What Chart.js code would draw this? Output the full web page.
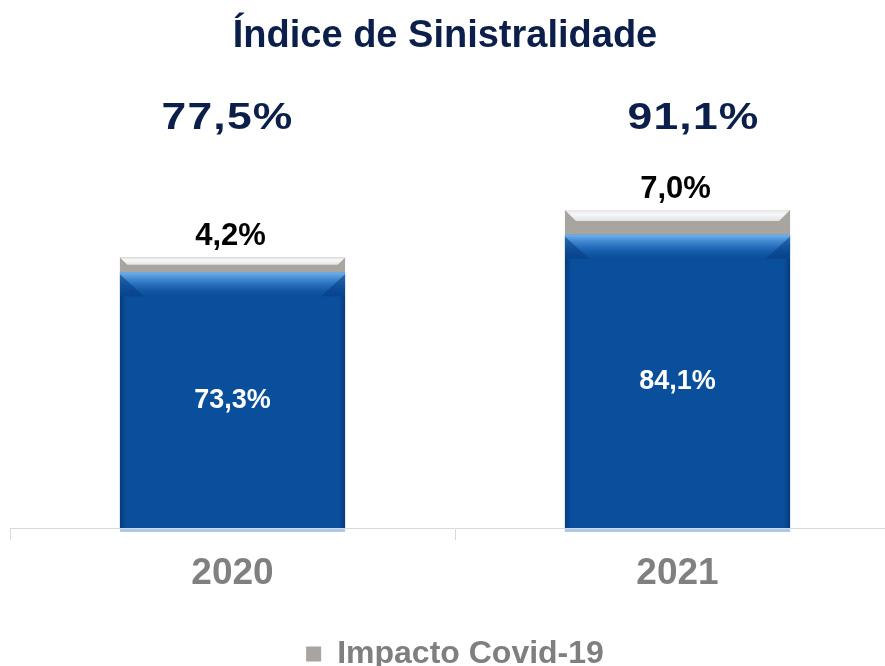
<!DOCTYPE html>
<html lang="pt-BR">
<head>
<meta charset="utf-8">
<title>Índice de Sinistralidade</title>
<script src="https://cdn.jsdelivr.net/npm/chart.js@4.4.1/dist/chart.umd.min.js"></script>
<style>
    html, body { margin: 0; padding: 0; background: #fff; overflow: hidden; }
    #grafico { display: block; }
</style>
</head>
<body>
<canvas id="grafico" width="900" height="680"></canvas>
<script>
const anos = ['2020', '2021'];
const sinistralidade = [73.3, 84.1];
const impactoCovid = [4.2, 7.0];
const totais = [77.5, 91.1];

const fonte = "'Liberation Sans', Arial, sans-serif";

function formatar(v) {
    return v.toFixed(1).replace('.', ',') + '%';
}

// bevel por cima das barras, pra ficar parecido com o grafico original
const chanfro = {
    id: 'chanfro',
    afterDatasetsDraw(chart) {
        const ctx = chart.ctx;
        chart.data.datasets.forEach((ds, di) => {
            const meta = chart.getDatasetMeta(di);
            meta.data.forEach(bar => {
                const x0 = bar.x - bar.width / 2;
                const x1 = bar.x + bar.width / 2;
                const y0 = bar.y;
                const y1 = bar.base;
                const h = y1 - y0;
                ctx.save();
                if (di === 0) {
                    const b = 24;
                    let g = ctx.createLinearGradient(0, y0, 0, y0 + b);
                    g.addColorStop(0, 'rgba(120,185,240,0.95)');
                    g.addColorStop(0.5, 'rgba(60,135,215,0.6)');
                    g.addColorStop(1, 'rgba(25,95,175,0)');
                    ctx.fillStyle = g;
                    ctx.fillRect(x0, y0, x1 - x0, b);
                    // cantos escuros
                    ctx.fillStyle = 'rgba(5,60,130,0.55)';
                    ctx.beginPath();
                    ctx.moveTo(x0, y0 + 2); ctx.lineTo(x0 + b, y0 + b); ctx.lineTo(x0, y0 + b);
                    ctx.closePath(); ctx.fill();
                    ctx.beginPath();
                    ctx.moveTo(x1, y0 + 2); ctx.lineTo(x1 - b, y0 + b); ctx.lineTo(x1, y0 + b);
                    ctx.closePath(); ctx.fill();
                    // bordas laterais
                    let gl = ctx.createLinearGradient(x0, 0, x0 + 6, 0);
                    gl.addColorStop(0, 'rgba(0,35,90,0.45)');
                    gl.addColorStop(1, 'rgba(0,35,90,0)');
                    ctx.fillStyle = gl;
                    ctx.fillRect(x0, y0 + b, 6, h - b);
                    let gr = ctx.createLinearGradient(x1, 0, x1 - 6, 0);
                    gr.addColorStop(0, 'rgba(0,35,90,0.45)');
                    gr.addColorStop(1, 'rgba(0,35,90,0)');
                    ctx.fillStyle = gr;
                    ctx.fillRect(x1 - 6, y0 + b, 6, h - b);
                    ctx.fillStyle = '#a8c8ec';
                    ctx.fillRect(x0, y1 + 1, x1 - x0, 3);
                } else {
                    const b = Math.min(h / 2, 11);
                    let g = ctx.createLinearGradient(0, y0, 0, y0 + b);
                    g.addColorStop(0, '#e6e6e6');
                    g.addColorStop(0.4, '#f6f7f8');
                    g.addColorStop(1, '#e2e2e2');
                    ctx.fillStyle = g;
                    ctx.beginPath();
                    ctx.moveTo(x0, y0); ctx.lineTo(x1, y0);
                    ctx.lineTo(x1 - b, y0 + b); ctx.lineTo(x0 + b, y0 + b);
                    ctx.closePath(); ctx.fill();
                }
                ctx.restore();
            });
        });
    }
};

// titulo, totais e rotulos
const rotulos = {
    id: 'rotulos',
    afterDraw(chart) {
        const ctx = chart.ctx;
        const azul = chart.getDatasetMeta(0).data;
        const cinza = chart.getDatasetMeta(1).data;
        const desloc = [-5, 16];
        ctx.save();
        ctx.textAlign = 'center';
        ctx.textBaseline = 'middle';

        ctx.fillStyle = '#0b1f4a';
        ctx.font = 'bold 38px ' + fonte;
        ctx.fillText('Índice de Sinistralidade', 445, 37);

        // totais com fonte "esticada"
        ctx.font = 'bold 37px ' + fonte;
        ctx.letterSpacing = '1px';
        totais.forEach((t, i) => {
            ctx.save();
            ctx.translate(azul[i].x + desloc[i], 119);
            ctx.scale(1.2, 1);
            ctx.fillText(formatar(t), 0, 0);
            ctx.restore();
        });
        ctx.letterSpacing = '0px';

        ctx.fillStyle = '#000';
        ctx.font = 'bold 31px ' + fonte;
        cinza.forEach((bar, i) => {
            ctx.fillText(formatar(impactoCovid[i]), bar.x - 2, bar.y - 21);
        });

        ctx.fillStyle = '#fff';
        ctx.font = 'bold 27px ' + fonte;
        azul.forEach((bar, i) => {
            ctx.fillText(formatar(sinistralidade[i]), bar.x, (bar.y + bar.base) / 2);
        });
        ctx.restore();
    }
};

new Chart(document.getElementById('grafico'), {
    type: 'bar',
    data: {
        labels: anos,
        datasets: [
            {
                label: 'Sinistralidade',
                data: sinistralidade,
                backgroundColor: '#0a4f9b',
                barPercentage: 0.506,
                categoryPercentage: 1
            },
            {
                label: 'Impacto Covid-19',
                data: impactoCovid,
                backgroundColor: '#a8a4a0',
                barPercentage: 0.506,
                categoryPercentage: 1
            }
        ]
    },
    options: {
        responsive: false,
        animation: false,
        layout: { padding: { top: 179, left: 10, right: 0, bottom: 0 } },
        scales: {
            x: {
                stacked: true,
                grid: { drawOnChartArea: false, color: '#d9d9d9', tickLength: 12 },
                border: { color: '#d9d9d9' },
                ticks: { color: '#808080', font: { family: fonte, size: 37, weight: 'bold' }, padding: 12 },
                afterFit(axis) { axis.height = 110; }
            },
            y: { stacked: true, display: false, min: 0, max: 100 }
        },
        plugins: {
            tooltip: { enabled: false },
            legend: {
                position: 'bottom',
                labels: {
                    filter: item => item.datasetIndex === 1,
                    color: '#7f7f7f',
                    font: { family: fonte, size: 32, weight: 'bold' },
                    boxWidth: 15,
                    boxHeight: 15,
                    padding: 0
                }
            }
        }
    },
    plugins: [chanfro, rotulos]
});
</script>
</body>
</html>
